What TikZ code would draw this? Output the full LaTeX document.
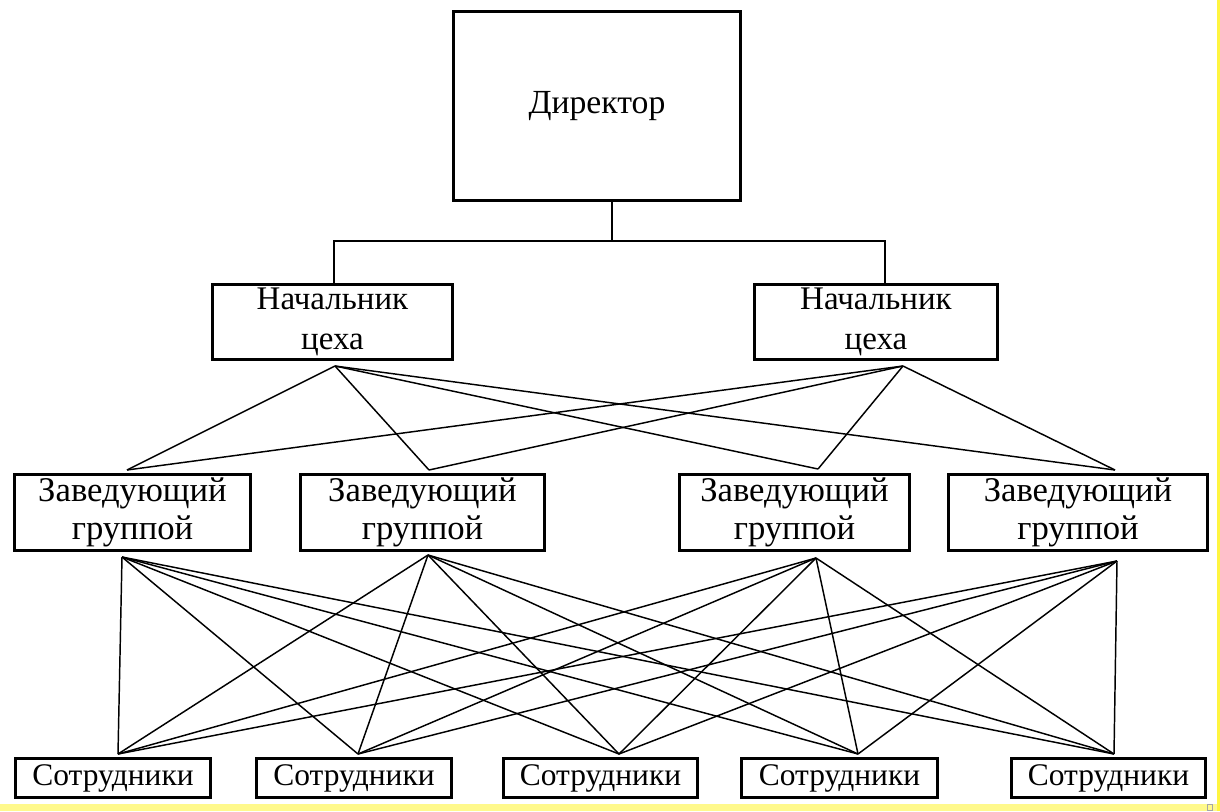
\documentclass[tikz,border=0pt]{standalone}
\usepackage{fontspec}
\setmainfont{Liberation Serif}
\begin{document}
\begin{tikzpicture}[x=0.75pt,y=-0.75pt,
  box/.style={draw, line width=2.2pt, align=center, inner sep=0pt,
    font=\fontsize{24.75}{29.5}\selectfont},
  zbox/.style={box, font=\fontsize{26}{28.5}\selectfont},
  sbox/.style={box, font=\fontsize{23.6}{28}\selectfont},
  link/.style={line width=1.1pt},
  tree/.style={line width=1.4pt}]
\useasboundingbox (0,0) rectangle (1220,811);
\fill[white] (0,0) rectangle (1220,811);
\fill[yellow!45] (0,804) rectangle (1220,811);
\fill[yellow!75] (1217,0) rectangle (1220,811);
\draw[gray!70, line width=0.5pt] (1207.5,804.5) rectangle (1212.5,810);

% boxes
\node[box, minimum width=215.25pt, minimum height=141.75pt, font=\fontsize{25.3}{29.5}\selectfont] (dir) at (597,106) {Директор};
\node[box, minimum width=180pt, minimum height=56.25pt] (nach1) at (332.5,322) {Начальник\\цеха};
\node[box, minimum width=182.25pt, minimum height=56.25pt] (nach2) at (876,322) {Начальник\\цеха};
\node[zbox, minimum width=177pt, minimum height=57pt] (zav1) at (132.5,512.5) {Заведующий\\группой};
\node[zbox, minimum width=183pt, minimum height=57pt] (zav2) at (422.5,512.5) {Заведующий\\группой};
\node[zbox, minimum width=172.5pt, minimum height=57pt] (zav3) at (794.5,512.5) {Заведующий\\группой};
\node[zbox, minimum width=194.25pt, minimum height=57pt] (zav4) at (1078,512.5) {Заведующий\\группой};
\node[sbox, minimum width=146.25pt, minimum height=29.25pt] (sot1) at (113,778) {Сотрудники};
\node[sbox, minimum width=146.25pt, minimum height=29.25pt] (sot2) at (354,778) {Сотрудники};
\node[sbox, minimum width=145.5pt, minimum height=29.25pt] (sot3) at (600.5,778) {Сотрудники};
\node[sbox, minimum width=147pt, minimum height=29.25pt] (sot4) at (839.5,778) {Сотрудники};
\node[sbox, minimum width=145.5pt, minimum height=29.25pt] (sot5) at (1108.5,778) {Сотрудники};

% tree from director
\coordinate (j) at (612,241);
\coordinate (n1t) at (334,241);
\coordinate (n2t) at (885,241);
\draw[tree] (j |- dir.south) -- (j);
\draw[tree] (n1t |- nach1.north) -- (n1t) -- (n2t) -- (n2t |- nach2.north);

% meeting points
\coordinate (n1b) at (335,366);
\coordinate (n2b) at (903,366);
\coordinate (z1t) at (127,470);
\coordinate (z2t) at (429,470);
\coordinate (z3t) at (818,469);
\coordinate (z4t) at (1115,470);
\coordinate (z1b) at (122,557);
\coordinate (z2b) at (428,555);
\coordinate (z3b) at (816,558);
\coordinate (z4b) at (1117,561);
\coordinate (s1t) at (118,754);
\coordinate (s2t) at (358,754);
\coordinate (s3t) at (619,754);
\coordinate (s4t) at (858,754);
\coordinate (s5t) at (1114,754);

\foreach \a in {n1b,n2b}
  \foreach \b in {z1t,z2t,z3t,z4t}
    \draw[link] (\a) -- (\b);
\foreach \a in {z1b,z2b,z3b,z4b}
  \foreach \b in {s1t,s2t,s3t,s4t,s5t}
    \draw[link] (\a) -- (\b);
\end{tikzpicture}
\end{document}
